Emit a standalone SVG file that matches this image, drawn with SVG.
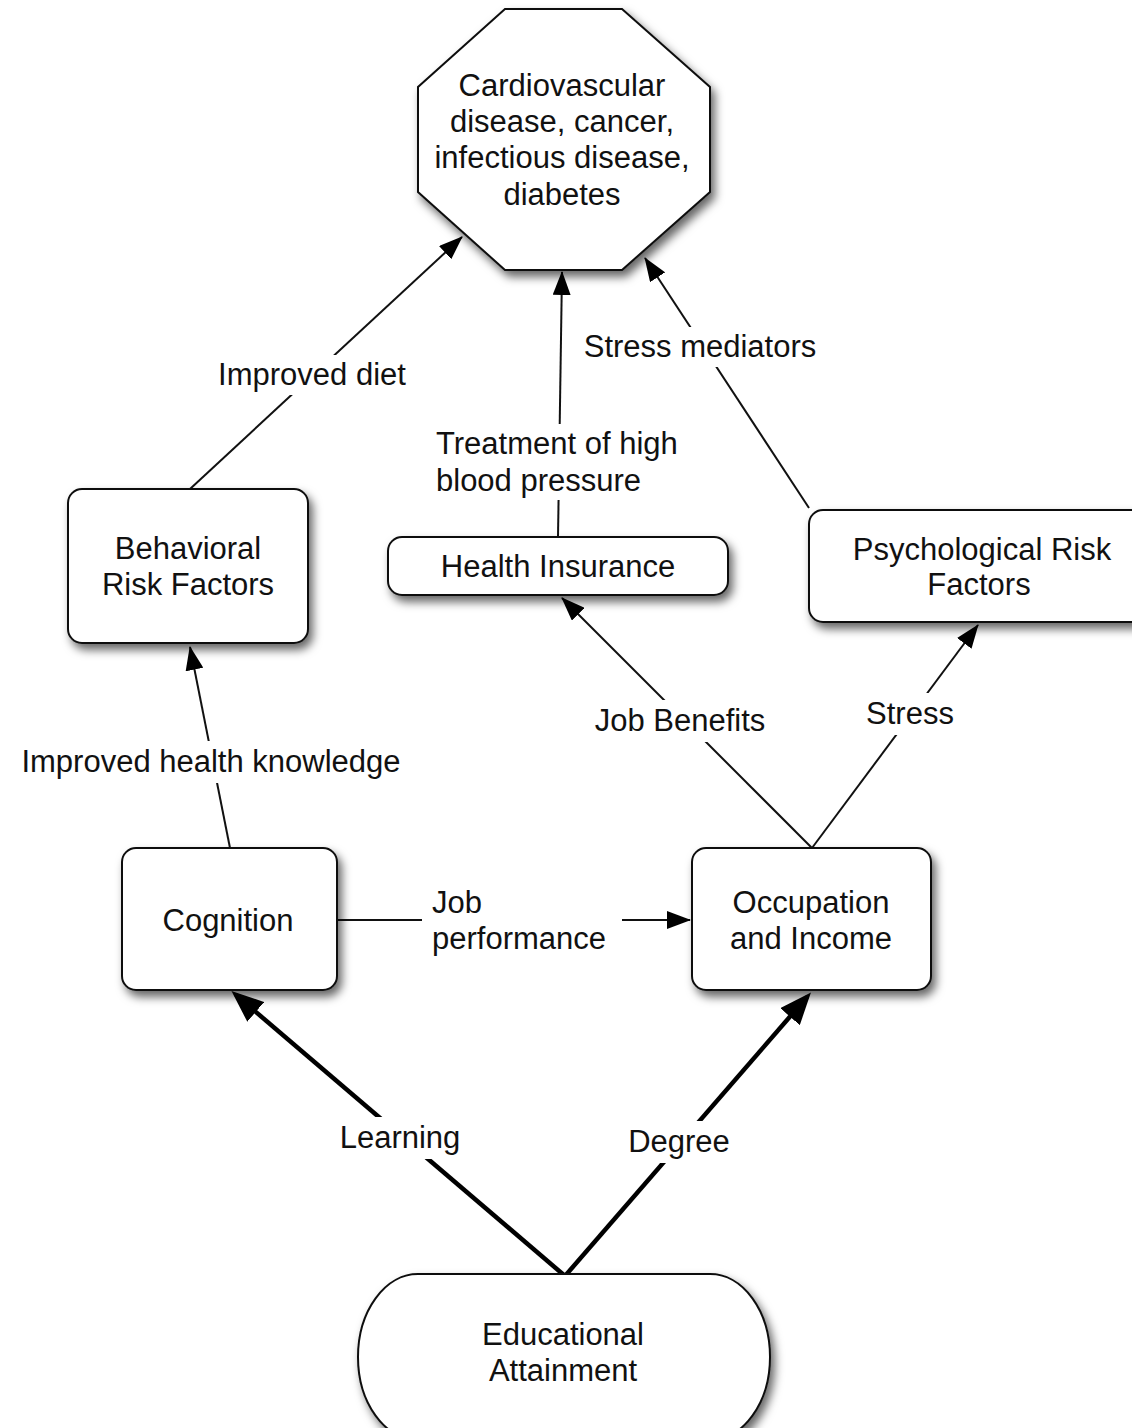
<svg xmlns="http://www.w3.org/2000/svg" width="1132" height="1428" viewBox="0 0 1132 1428">
<style>
text{font-family:"Liberation Sans",Arial,sans-serif;font-size:31px;fill:#111}
.c{text-anchor:middle}
.node{fill:#fff;stroke:#111;stroke-width:2;filter:url(#sh)}
.thin{stroke:#111;stroke-width:2;fill:none}
.thick{stroke:#000;stroke-width:4.5;fill:none}
.bg{fill:#fff}
</style>
<defs>
<filter id="sh" x="-20%" y="-20%" width="150%" height="150%">
<feDropShadow dx="4" dy="6" stdDeviation="5" flood-color="#000" flood-opacity="0.6"/>
</filter>
<marker id="ah" markerUnits="userSpaceOnUse" markerWidth="24" markerHeight="18" viewBox="0 0 24 18" refX="23" refY="9" orient="auto">
<path d="M0,0 L24,9 L0,18 z" fill="#000"/>
</marker>
<marker id="ahb" markerUnits="userSpaceOnUse" markerWidth="32" markerHeight="26" viewBox="0 0 32 26" refX="26" refY="13" orient="auto">
<path d="M0,0 L32,13 L0,26 z" fill="#000"/>
</marker>
</defs>
<rect width="1132" height="1428" fill="#fff"/>

<g id="connectors">
<line class="thick" x1="565" y1="1276" x2="236" y2="995" marker-end="url(#ahb)"/>
<line class="thick" x1="565" y1="1276" x2="807" y2="997" marker-end="url(#ahb)"/>
<line class="thin" x1="230" y1="848" x2="190" y2="647" marker-end="url(#ah)"/>
<line class="thin" x1="190" y1="489" x2="462" y2="237" marker-end="url(#ah)"/>
<line class="thin" x1="558" y1="537" x2="562" y2="272" marker-end="url(#ah)"/>
<line class="thin" x1="809" y1="508" x2="645" y2="258" marker-end="url(#ah)"/>
<line class="thin" x1="812" y1="848" x2="562" y2="598" marker-end="url(#ah)"/>
<line class="thin" x1="812" y1="848" x2="978" y2="625" marker-end="url(#ah)"/>
<line class="thin" x1="337" y1="920" x2="690" y2="920" marker-end="url(#ah)"/>
</g>

<g id="labels">
<rect class="bg" x="214" y="355" width="198" height="40"/>
<text class="c" x="312" y="385">Improved diet</text>
<rect class="bg" x="430" y="424" width="256" height="76"/>
<text x="436" y="454">Treatment of high</text>
<text x="436" y="491">blood pressure</text>
<rect class="bg" x="580" y="327" width="242" height="40"/>
<text class="c" x="700" y="357">Stress mediators</text>
<rect class="bg" x="590" y="700" width="180" height="42"/>
<text class="c" x="680" y="731">Job Benefits</text>
<rect class="bg" x="862" y="693" width="98" height="42"/>
<text class="c" x="910" y="724">Stress</text>
<rect class="bg" x="14" y="741" width="394" height="42"/>
<text class="c" x="211" y="772">Improved health knowledge</text>
<rect class="bg" x="422" y="882" width="200" height="76"/>
<text x="432" y="913">Job</text>
<text x="432" y="949">performance</text>
<rect class="bg" x="336" y="1117" width="130" height="42"/>
<text class="c" x="400" y="1148">Learning</text>
<rect class="bg" x="624" y="1121" width="110" height="42"/>
<text class="c" x="679" y="1152">Degree</text>
</g>

<g id="outcome">
<polygon class="node" points="505,9 622,9 710,87 710,192 622,270 505,270 418,192 418,87"/>
<text class="c" x="562" y="96">Cardiovascular</text>
<text class="c" x="562" y="132">disease, cancer,</text>
<text class="c" x="562" y="168">infectious disease,</text>
<text class="c" x="562" y="205">diabetes</text>
</g>

<g id="behavioral">
<rect class="node" x="68" y="489" width="240" height="154" rx="14"/>
<text class="c" x="188" y="559">Behavioral</text>
<text class="c" x="188" y="595">Risk Factors</text>
</g>

<g id="insurance">
<rect class="node" x="388" y="537" width="340" height="58" rx="14"/>
<text class="c" x="558" y="577">Health Insurance</text>
</g>

<g id="psychological">
<rect class="node" x="809" y="510" width="345" height="112" rx="14"/>
<text class="c" x="982" y="560">Psychological Risk</text>
<text class="c" x="979" y="595">Factors</text>
</g>

<g id="cognition">
<rect class="node" x="122" y="848" width="215" height="142" rx="14"/>
<text class="c" x="228" y="931">Cognition</text>
</g>

<g id="occupation">
<rect class="node" x="692" y="848" width="239" height="142" rx="14"/>
<text class="c" x="811" y="913">Occupation</text>
<text class="c" x="811" y="949">and Income</text>
</g>

<g id="education">
<rect class="node" x="358" y="1274" width="412" height="166" rx="60" ry="83"/>
<text class="c" x="563" y="1345">Educational</text>
<text class="c" x="563" y="1381">Attainment</text>
</g>
</svg>
